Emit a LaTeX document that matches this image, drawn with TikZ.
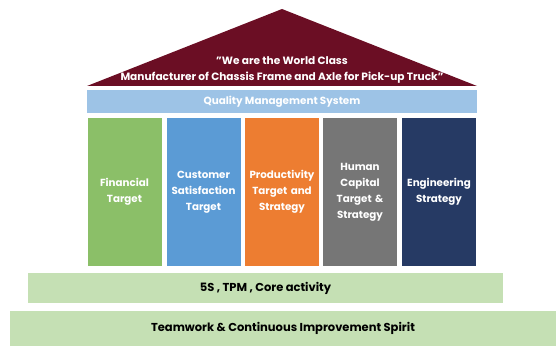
\documentclass[tikz,border=0pt]{standalone}
\usepackage{fontspec}
\setmainfont{Poppins}
\definecolor{roofred}{HTML}{6B0E24}
\definecolor{qmsblue}{HTML}{9DC3E6}
\definecolor{pgreen}{HTML}{8BBF68}
\definecolor{pblue}{HTML}{5B9BD5}
\definecolor{porange}{HTML}{ED7D31}
\definecolor{pgray}{HTML}{767676}
\definecolor{pnavy}{HTML}{263A64}
\definecolor{basegreen}{HTML}{C5E0B4}
\begin{document}
\begin{tikzpicture}[x=1pt, y=1pt,
    pillar/.style={minimum width=74pt, minimum height=148pt, inner sep=0pt,
                   text width=74pt, align=center, text=white,
                   font=\bfseries\fontsize{10.3}{16}\selectfont},
    band/.style={fill=basegreen, minimum height=30pt, inner sep=0pt,
                 font=\bfseries\fontsize{11.5}{13}\selectfont}
]
  \useasboundingbox (0,0) rectangle (556,346);

  % Roof
  \coordinate (roofL) at (87,260);
  \coordinate (roofR) at (477,260);
  \coordinate (roofT) at (282,337);
  \fill[roofred] (roofL) -- (roofT) -- (roofR) -- cycle;
  \node[text=white, align=center, font=\bfseries\fontsize{10.6}{15.5}\selectfont]
    (vision) at (282,276) {"We are the World Class\\Manufacturer of Chassis Frame and Axle for Pick-up Truck"};

  % Quality system beam
  \node[fill=qmsblue, minimum width=390pt, minimum height=23pt, inner sep=0pt,
        text=white, font=\bfseries\fontsize{10.4}{12}\selectfont]
    (qms) at (282,244.5) {Quality Management System};

  % Pillars
  \node[pillar, fill=pgreen]  (fin)  at (124.5,154) {Financial\\Target};
  \node[pillar, fill=pblue]   (cust) at (203.5,154) {Customer\\Satisfaction\\Target};
  \node[pillar, fill=porange] (prod) at (282,154)   {Productivity\\Target and\\Strategy};
  \node[pillar, fill=pgray]   (hum)  at (360,154)   {Human\\Capital\\Target \&\\Strategy};
  \node[pillar, fill=pnavy]   (eng)  at (439,154)   {Engineering\\Strategy};

  % Foundation
  \node[band, minimum width=475pt] (core) at (265.5,58) {5S , TPM , Core activity};
  \node[band, minimum width=546pt, minimum height=35pt] (spirit) at (283,17.5)
    {Teamwork \& Continuous Improvement Spirit};
\end{tikzpicture}
\end{document}
